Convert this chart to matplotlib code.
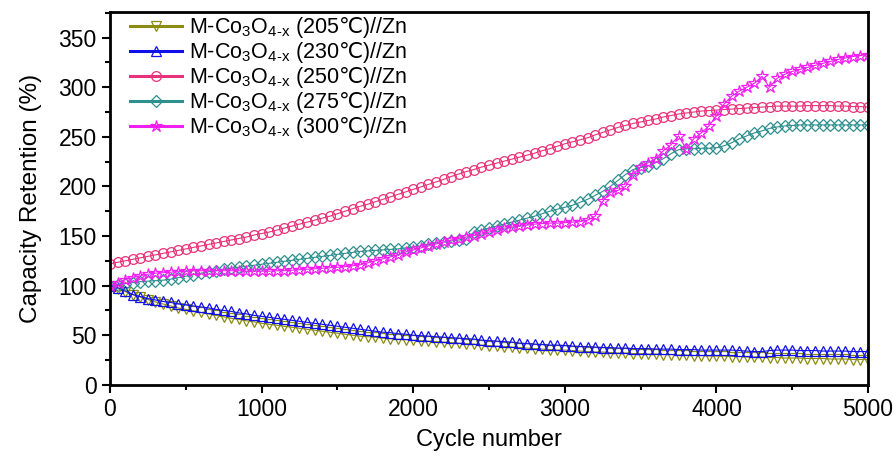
import numpy as np
import matplotlib
matplotlib.use("Agg")
import matplotlib.pyplot as plt
from matplotlib.ticker import MultipleLocator

plt.rcParams['font.family'] = ['Liberation Sans', 'DejaVu Sans']
plt.rcParams['mathtext.fontset'] = 'custom'
plt.rcParams['mathtext.rm'] = 'Liberation Sans'
plt.rcParams['mathtext.sf'] = 'DejaVu Sans'

cycles = list(range(0, 5001, 50))

r205 = [100, 97, 94, 91, 88.5, 86, 83.5, 81.5, 79.5, 77.5,
        76, 74.5, 73, 71.5, 70, 68.5, 67, 66, 64.5, 63.5,
        62, 61, 60, 59, 58, 57, 56, 55, 54, 53,
        52, 51, 50, 49, 48.5, 48, 47, 46.5, 46, 45.5,
        45, 44.5, 44, 43.5, 43, 42.5, 42, 41.5, 41, 40,
        39.5, 39, 38.5, 38, 37.5, 37, 36.5, 36, 35.5, 35,
        35, 34.5, 34, 33.5, 33, 33, 32.5, 32, 32, 31.5,
        31.5, 31, 31, 30.5, 30.5, 30, 30, 29.5, 29.5, 29,
        29, 29, 28.5, 28.5, 28, 28, 28, 27.5, 27.5, 27,
        27, 27, 26.5, 26.5, 26.5, 26, 26, 26, 25.5, 25.5,
        25.5]

r230 = [100, 98, 95, 91, 89, 87, 85.5, 84, 83, 81.5,
        80.5, 79.5, 78.5, 77.5, 76, 75, 74, 72.5, 71.5, 70,
        69, 68, 67, 66, 65, 64, 63, 62, 61, 60,
        59, 58, 57, 56, 55, 54, 53, 52.5, 51.5, 51,
        50, 49.5, 49, 48.5, 48, 47.5, 47, 46.5, 46, 45,
        44.5, 44, 43.5, 43, 42, 41.5, 41, 40.5, 40, 40,
        39.5, 39, 38.5, 38.5, 38, 37.5, 37.5, 37, 37, 36.5,
        36.5, 36.5, 36, 36, 36, 35.5, 35.5, 35.5, 35, 35,
        35, 35, 35, 34.5, 34, 33.5, 33.5, 34.5, 35, 35,
        35, 34.5, 34.5, 34.5, 34, 34, 34, 34, 33.5, 33.5,
        33.5]

r250 = [122, 123.5, 125, 126.5, 128, 129.5, 131, 132.5, 134, 135.5,
        137, 138.5, 140, 141.5, 143, 144.5, 146, 147.5, 149, 151,
        152.5, 154, 156, 158, 160, 162, 164, 166, 168, 170,
        172.5, 175, 177.5, 180, 182, 184.5, 187, 189.5, 192, 194.5,
        197, 199.5, 202, 204.5, 207, 210, 212.5, 215, 217, 219.5,
        221.5, 223.5, 225.5, 227.5, 229.5, 231.5, 233.5, 236, 238, 240.5,
        243, 245, 247, 249, 252, 254.5, 257, 259.5, 261.5, 263.5,
        265, 266.5, 268, 270, 271.5, 273, 274, 275, 276, 276.5,
        277, 277.5, 278, 278.5, 279, 279.5, 280, 280.5, 281, 281,
        281, 281, 281.5, 281.5, 281.5, 281.5, 281, 281, 280.5, 280.5,
        280]

r275 = [100, 101, 102, 103, 104, 104.5, 105, 105.5, 106.5, 108,
        109.5, 111, 112.5, 114, 115, 116.5, 117.5, 118.5, 119.5, 120.5,
        121.5, 122.5, 123.5, 124.5, 125.5, 126.5, 127.5, 128.5, 129.5, 130.5,
        131.5, 132.5, 133.5, 134.5, 135, 135.5, 136, 136.5, 137, 138,
        139, 140, 141.5, 143, 144, 145, 146, 147, 154, 156,
        158, 160, 162, 164, 166, 168, 170, 172.5, 175, 177,
        179, 181, 184, 187, 191, 195, 200, 206, 212, 217,
        219, 221, 224, 228, 233, 237, 238, 238, 238.5, 238.5,
        239, 241, 244, 248, 251, 254, 256, 258.5, 260, 261,
        261.5, 262, 262, 262, 262, 262, 262, 262, 262, 262,
        262]

r300 = [100, 103, 106, 108, 110, 111.5, 112.5, 113, 113.5, 114,
        114.5, 115, 115, 115, 115, 115, 115, 115, 114.5, 114.5,
        114.5, 114.5, 115, 115, 115.5, 116, 116.5, 117, 117.5, 118,
        118.5, 119, 120, 121, 123, 125, 127, 129, 131, 134,
        136, 138, 140, 142, 144, 146, 147.5, 149, 150.5, 152,
        154, 156, 158, 159, 160, 161, 162, 162.5, 163, 163,
        163.5, 164, 164.5, 166, 170, 185, 194, 196, 200, 212,
        220, 224, 228, 236, 242, 251, 238, 248, 254, 261,
        271, 283, 291, 296, 300, 304, 311, 300, 309, 313,
        316, 318, 320, 322, 324, 326, 328, 329.5, 331, 332,
        333]

temps = ['205', '230', '250', '275', '300']
labels = [r'M-Co$\mathregular{_3}$O$\mathregular{_{4\text{-}x}}$ (' + t
          + r'$\mathsf{\u2103}$)//Zn'.replace(r'\u2103', '\u2103')
          for t in temps]
series = [r205, r230, r250, r275, r300]
colors = ['#8C8C14', '#1010E8', '#E8337A', '#2E8F8F', '#F01EF0']
markers = ['v', '^', 'o', 'D', '*']
msizes = [7, 7, 7, 6, 9]

fig = plt.figure(figsize=(8.94, 4.57), dpi=100)
ax = fig.add_axes([0.123, 0.158, 0.848, 0.816])

for y, c, m, ms, lab in zip(series, colors, markers, msizes, labels):
    ax.plot(cycles, y, color=c, marker=m, markersize=ms, markerfacecolor='none',
            markeredgecolor=c, markeredgewidth=0.9, linewidth=0.8, label=lab)

ax.set_xlim(0, 5000)
ax.set_ylim(0, 376)
ax.xaxis.set_major_locator(MultipleLocator(1000))
ax.xaxis.set_minor_locator(MultipleLocator(500))
ax.yaxis.set_major_locator(MultipleLocator(50))
ax.yaxis.set_minor_locator(MultipleLocator(25))
ax.tick_params(which='major', direction='out', length=6, width=1.5, labelsize=16.5)
ax.tick_params(which='minor', direction='out', length=3.5, width=1.5)
ax.tick_params(top=False, right=False)
for s in ax.spines.values():
    s.set_linewidth(2.0)

ax.set_xlabel('Cycle number', fontsize=17, labelpad=6)
ax.set_ylabel('Capacity Retention (%)', fontsize=17.5, labelpad=12)

leg = ax.legend(loc='upper left', frameon=False, fontsize=15.5, handlelength=2.4,
                handletextpad=0.3, labelspacing=0.0, borderaxespad=0.2,
                bbox_to_anchor=(0.01, 1.025))
for line in leg.get_lines():
    line.set_linewidth(2.2)

fig.savefig('out.png', dpi=100)
